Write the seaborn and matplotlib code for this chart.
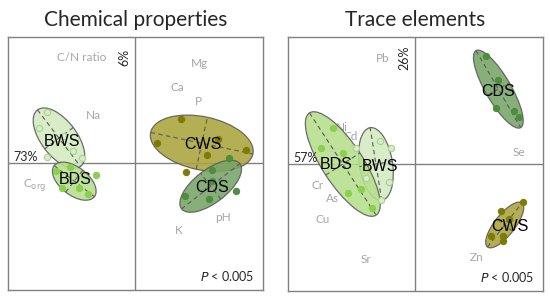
import numpy as np
import pandas as pd
import seaborn as sns
import matplotlib.pyplot as plt
from matplotlib.patches import Ellipse

# ── data ────────────────────────────────────────────────────────────────────
TITLES = ["Chemical properties", "Trace elements"]
GROUPS = ["BWS", "BDS", "CWS", "CDS"]

# sample scores per panel / group
chem_x = {
    "BWS": [-0.69, -0.76, -0.56, -0.49, -0.42, -0.69],
    "BDS": [-0.62, -0.51, -0.31, -0.58, -0.44, -0.37],
    "CWS": [0.36, 0.17, 0.65, 0.87, 0.56, 0.40],
    "CDS": [0.73, 0.60, 0.60, 0.39, 0.58, 0.79],
}
chem_y = {
    "BWS": [0.41, 0.28, 0.22, 0.10, 0.04, 0.05],
    "BDS": [-0.06, -0.03, -0.09, -0.19, -0.19, -0.24],
    "CWS": [0.35, 0.16, 0.19, 0.11, 0.07, -0.07],
    "CDS": [0.04, -0.05, -0.14, -0.26, -0.28, -0.22],
}
trace_x = {
    "BWS": [-0.28, -0.19, -0.47, -0.39, -0.21, -0.27],
    "BDS": [-0.65, -0.74, -0.57, -0.53, -0.43, -0.34],
    "CWS": [0.84, 0.67, 0.73, 0.59, 0.69, 0.69],
    "CDS": [0.55, 0.65, 0.63, 0.77, 0.81],
}
trace_y = {
    "BWS": [0.18, 0.13, 0.13, -0.11, -0.14, -0.28],
    "BDS": [0.28, 0.13, 0.09, -0.23, -0.20, -0.35],
    "CWS": [-0.30, -0.37, -0.43, -0.57, -0.57, -0.61],
    "CDS": [0.85, 0.66, 0.44, 0.42, 0.37],
}

# group ellipses: centre x, centre y, semi-major, semi-minor, angle (deg)
chem_ell = {
    "BWS": (-0.60, 0.20, 0.28, 0.14, -53),
    "BDS": (-0.48, -0.14, 0.20, 0.11, -38),
    "CWS": (0.52, 0.16, 0.41, 0.21, -12),
    "CDS": (0.59, -0.18, 0.29, 0.13, 38),
}
trace_ell = {
    "BWS": (-0.31, 0.00, 0.29, 0.13, 99),
    "BDS": (-0.57, 0.00, 0.48, 0.16, -57),
    "CWS": (0.70, -0.48, 0.22, 0.08, 52),
    "CDS": (0.65, 0.59, 0.35, 0.10, -60),
}
chem_group_lab = {"BWS": (-0.58, 0.17), "BDS": (-0.47, -0.13),
                  "CWS": (0.53, 0.15), "CDS": (0.60, -0.19)}
trace_group_lab = {"BWS": (-0.28, -0.02), "BDS": (-0.62, 0.00),
                   "CWS": (0.74, -0.49), "CDS": (0.65, 0.57)}

# variable loadings (text only)
chem_vars = ["C/N ratio", "Mg", "Ca", "P", "Na", r"C$_{\mathrm{org}}$", "pH", "K"]
chem_var_x = [-0.42, 0.50, 0.33, 0.49, -0.33, -0.79, 0.69, 0.34]
chem_var_y = [0.84, 0.79, 0.60, 0.49, 0.38, -0.17, -0.43, -0.53]
trace_vars = ["Pb", "Ni", "Cd", "Se", "Cr", "As", "Cu", "Sr", "Zn"]
trace_var_x = [-0.26, -0.58, -0.51, 0.81, -0.77, -0.65, -0.73, -0.39, 0.48]
trace_var_y = [0.83, 0.29, 0.22, 0.09, -0.17, -0.27, -0.44, -0.75, -0.74]

# explained variance (x axis, y axis)
chem_pct = ("73%", "6%")
trace_pct = ("57%", "26%")
P_TEXT = r"$P$ < 0.005"

# ── style ───────────────────────────────────────────────────────────────────
FILL = {"BWS": "#d3eac0", "BDS": "#b6df8c", "CWS": "#aaa43a", "CDS": "#78a468"}
DOT = {"BWS": "#d6eec6", "BDS": "#8ccf4e", "CWS": "#7d7b08", "CDS": "#4f8d3e"}
DOT_EDGE = {"BWS": "#a9cf92", "BDS": "#8ccf4e", "CWS": "#7d7b08", "CDS": "#4f8d3e"}
VAR_COL = "#a6a6a6"
FRAME = "#808080"

sns.set_theme(style="white")
plt.rcParams["font.family"] = ["Lato", "DejaVu Sans"]


def to_frame(xs, ys):
    rows = []
    for g in GROUPS:
        for x, y in zip(xs[g], ys[g]):
            rows.append({"group": g, "x": x, "y": y})
    return pd.DataFrame(rows)


def draw_panel(ax, title, xs, ys, ell, glab, vars_, vx, vy, pct):
    ax.set_xlim(-1, 1)
    ax.set_ylim(-1, 1)
    ax.axhline(0, color=FRAME, lw=1, zorder=0)
    ax.axvline(0, color=FRAME, lw=1, zorder=0)

    for g in GROUPS:
        cx, cy, a, b, ang = ell[g]
        ax.add_patch(Ellipse((cx, cy), 2 * a, 2 * b, angle=ang,
                             facecolor=FILL[g], edgecolor="#5a5a5a",
                             lw=0.9, alpha=0.88, zorder=2))
        t = np.deg2rad(ang)
        ax.plot([cx - a * np.cos(t), cx + a * np.cos(t)],
                [cy - a * np.sin(t), cy + a * np.sin(t)],
                ls=(0, (4, 3)), color="#5a5a5a", lw=0.8, zorder=3)
        ax.plot([cx + b * np.sin(t), cx - b * np.sin(t)],
                [cy - b * np.cos(t), cy + b * np.cos(t)],
                ls=(0, (4, 3)), color="#5a5a5a", lw=0.8, zorder=3)

    df = to_frame(xs, ys)
    for g in GROUPS:
        sns.scatterplot(data=df[df["group"] == g], x="x", y="y", ax=ax,
                        color=DOT[g], edgecolor=DOT_EDGE[g], s=20,
                        linewidth=0.8, zorder=4, legend=False)

    for g in GROUPS:
        ax.text(*glab[g], g, ha="center", va="center", fontsize=11.5,
                family="Liberation Sans", color="black", zorder=5)

    for name, x, y in zip(vars_, vx, vy):
        ax.text(x, y, name, ha="center", va="center", fontsize=8.5,
                color=VAR_COL, zorder=1)

    ax.text(-0.86, 0.05, pct[0], ha="center", va="center", fontsize=9)
    ax.text(-0.085, 0.84, pct[1], ha="center", va="center", fontsize=9,
            rotation=90)
    ax.text(0.93, -0.89, P_TEXT, ha="right", va="center", fontsize=9)

    ax.set_xticks([])
    ax.set_yticks([])
    ax.set_xlabel("")
    ax.set_ylabel("")
    for s in ax.spines.values():
        s.set_color(FRAME)
        s.set_linewidth(1)
    ax.set_title(title, fontsize=15, pad=8)


fig = plt.figure(figsize=(5.5, 2.97), dpi=100)
ax1 = fig.add_axes([0.0145, 0.0236, 0.4636, 0.852])
ax2 = fig.add_axes([0.5236, 0.0202, 0.4636, 0.855])

draw_panel(ax1, TITLES[0], chem_x, chem_y, chem_ell, chem_group_lab,
           chem_vars, chem_var_x, chem_var_y, chem_pct)
draw_panel(ax2, TITLES[1], trace_x, trace_y, trace_ell, trace_group_lab,
           trace_vars, trace_var_x, trace_var_y, trace_pct)

fig.savefig("out.png", dpi=100, facecolor="white")
